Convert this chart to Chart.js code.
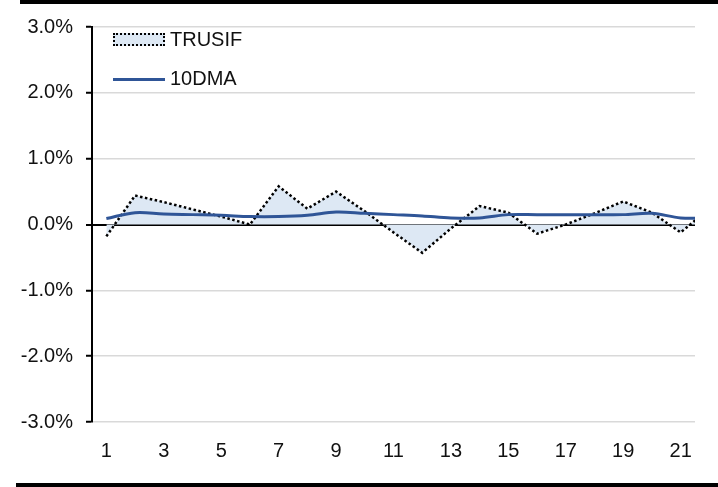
<!DOCTYPE html>
<html>
<head>
<meta charset="utf-8">
<script src="https://cdn.jsdelivr.net/npm/chart.js@4"></script>
<style>
    html, body { margin: 0; padding: 0; background: #fff; }
    #wrap { position: relative; width: 718px; height: 487px; }
    #rule-top { position: absolute; left: 20px; top: 0; width: 698px; height: 4px; background: #000; }
    #rule-bottom { position: absolute; left: 16px; top: 483px; width: 702px; height: 4px; background: #000; }
    .legend { position: absolute; left: 113px; font: 20px "Liberation Sans", Arial, sans-serif; color: #111; }
    .legend .sw { position: absolute; left: 0; width: 52px; }
    .legend span.txt { position: absolute; left: 57px; white-space: nowrap; }
</style>
</head>
<body>
<div id="wrap">
    <canvas id="chart" width="718" height="487"></canvas>
    <div id="rule-top"></div>
    <div id="rule-bottom"></div>
    <div class="legend" style="top:28px">
        <div class="sw" style="top:5px;height:9px;background:#dde8f4;border:2px dotted #000;width:48px"></div>
        <span class="txt" style="top:0">TRUSIF</span>
    </div>
    <div class="legend" style="top:67px">
        <div class="sw" style="top:11px;height:3px;background:#2f5597"></div>
        <span class="txt" style="top:0">10DMA</span>
    </div>
</div>
<script>
    // Trading days 1..22 (last one runs past the plot edge)
    const days = [1, 2, 3, 4, 5, 6, 7, 8, 9, 10, 11, 12, 13, 14, 15, 16, 17, 18, 19, 20, 21, 22];
    const xTickLabels = [1, 3, 5, 7, 9, 11, 13, 15, 17, 19, 21];

    // Daily values, in percent
    const trusif = [-0.18, 0.44, 0.34, 0.23, 0.12, 0.0, 0.58, 0.24, 0.50, 0.20, -0.12, -0.43,
                    -0.06, 0.28, 0.18, -0.14, 0.0, 0.17, 0.35, 0.18, -0.12, 0.24];
    const dma10 = [0.09, 0.18, 0.16, 0.15, 0.14, 0.12, 0.12, 0.14, 0.19, 0.17, 0.15, 0.13,
                   0.10, 0.10, 0.15, 0.15, 0.15, 0.15, 0.15, 0.17, 0.10, 0.10];

    const yTicks = [-3, -2, -1, 0, 1, 2, 3];

    const font = { family: '"Liberation Sans", Arial, sans-serif', size: 20 };
    const toPoints = vals => vals.map((v, i) => ({ x: days[i], y: v }));

    new Chart(document.getElementById('chart'), {
        type: 'line',
        data: {
            datasets: [
                {
                    label: '10DMA',
                    data: toPoints(dma10),
                    borderColor: '#2f5597',
                    borderWidth: 3,
                    pointRadius: 0,
                    tension: 0.35,
                    fill: false
                },
                {
                    label: 'TRUSIF',
                    data: toPoints(trusif),
                    borderColor: '#000',
                    borderWidth: 2.5,
                    borderDash: [2.5, 2.5],
                    backgroundColor: '#dde8f4',
                    pointRadius: 0,
                    tension: 0,
                    fill: 'origin'
                }
            ]
        },
        options: {
            responsive: false,
            animation: false,
            layout: { padding: { left: 0, right: 23, top: 27, bottom: 0 } },
            plugins: {
                legend: { display: false },
                tooltip: { enabled: false }
            },
            scales: {
                x: {
                    type: 'linear',
                    min: 0.5,
                    max: 21.5,
                    afterBuildTicks(scale) {
                        scale.ticks = xTickLabels.map(v => ({ value: v }));
                    },
                    afterFit(scale) { scale.height = 65; },
                    grid: { display: false },
                    border: { display: false },
                    ticks: { font, color: '#111', padding: 9, maxRotation: 0, autoSkip: false }
                },
                y: {
                    min: -3,
                    max: 3,
                    afterBuildTicks(scale) {
                        scale.ticks = yTicks.map(v => ({ value: v }));
                    },
                    afterFit(scale) { scale.width = 92; },
                    border: { display: true, color: '#000', width: 2 },
                    grid: {
                        color: ctx => ctx.tick && ctx.tick.value === 0 ? '#000' : '#d9d9d9',
                        lineWidth: ctx => ctx.tick && ctx.tick.value === 0 ? 2 : 1.5,
                        tickColor: '#000',
                        tickLength: 6,
                        tickWidth: 2
                    },
                    ticks: {
                        font,
                        color: '#111',
                        padding: 13,
                        callback: v => v.toFixed(1) + '%'
                    }
                }
            }
        }
    });
</script>
</body>
</html>
